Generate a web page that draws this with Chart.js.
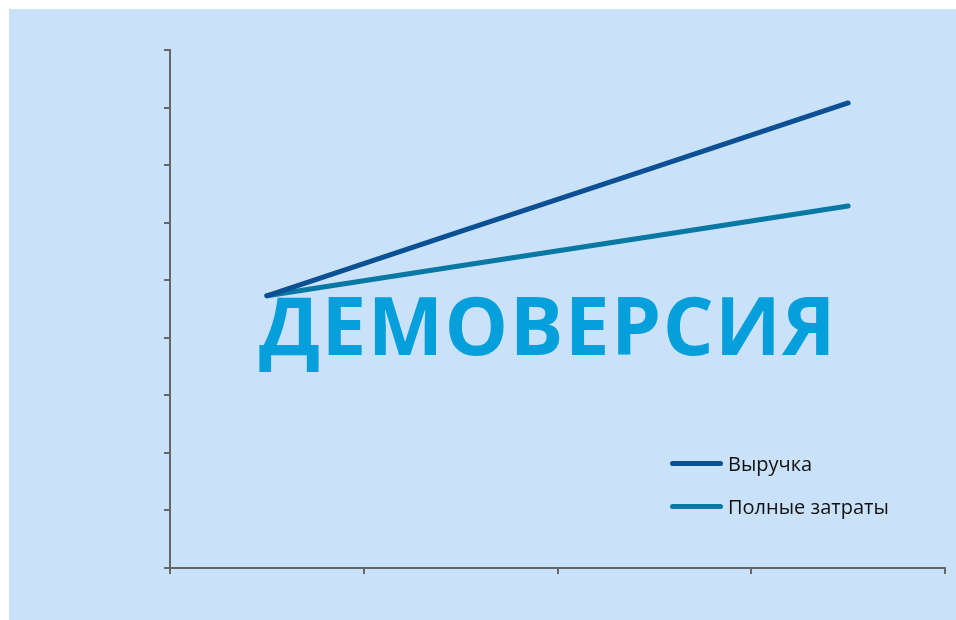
<!DOCTYPE html>
<html>
<head>
<meta charset="utf-8">
<script src="https://cdn.jsdelivr.net/npm/chart.js@4"></script>
<style>
  body { margin: 0; background: #fff; }
  #panel { position: absolute; left: 9px; top: 9px; width: 947px; height: 611px; background: #c9e2fa; }
  #wrap { position: absolute; left: 0; top: 0; width: 956px; height: 620px; }
  #marca { position: absolute; left: 259px; top: 284px; font: bold 80px "Open Sans", sans-serif; letter-spacing: 1.4px; color: #059fdb; white-space: nowrap; line-height: 1; }
  .leg { position: absolute; left: 670px; font: 20px "Open Sans", sans-serif; color: #111; line-height: 1; }
  .leg span { display: inline-block; width: 53px; height: 5px; border-radius: 3px; vertical-align: middle; margin-right: 5px; position: relative; top: -2px; }
</style>
</head>
<body>
<div id="panel"></div>
<div id="wrap"><canvas id="grafico" width="956" height="620"></canvas></div>
<div id="marca">ДЕМОВЕРСИЯ</div>
<div class="leg" style="top:454px"><span style="background:#0b4f95"></span>Выручка</div>
<div class="leg" style="top:497px"><span style="background:#0878a5"></span>Полные затраты</div>
<script>
// Dados do gráfico
const categorias = ['1', '2', '3', '4'];
const receita = [4.73, 5.85, 6.96, 8.08];
const custos = [4.73, 5.25, 5.77, 6.29];
const nomes = ['Выручка', 'Полные затраты'];
const cores = ['#0b4f95', '#0878a5'];

const ctx = document.getElementById('grafico').getContext('2d');
new Chart(ctx, {
    type: 'line',
    data: {
        labels: categorias,
        datasets: [
            { label: nomes[0], data: receita, borderColor: cores[0], borderWidth: 5, borderCapStyle: 'round', pointRadius: 0, tension: 0 },
            { label: nomes[1], data: custos, borderColor: cores[1], borderWidth: 5, borderCapStyle: 'round', pointRadius: 0, tension: 0 }
        ]
    },
    options: {
        responsive: false,
        animation: false,
        layout: { padding: { left: 0, top: 50, right: 11, bottom: 0 } },
        plugins: { legend: { display: false }, tooltip: { enabled: false } },
        scales: {
            x: {
                offset: true,
                ticks: { display: false },
                grid: { offset: true, drawOnChartArea: false, color: '#666', lineWidth: 2, tickLength: 6 },
                border: { color: '#666', width: 2 },
                afterFit: s => { s.height = 52; }
            },
            y: {
                min: 0, max: 9,
                ticks: { display: false, stepSize: 1 },
                grid: { drawOnChartArea: false, color: '#666', lineWidth: 2, tickLength: 6 },
                border: { color: '#666', width: 2 },
                afterFit: s => { s.width = 170; }
            }
        }
    }
});
</script>
</body>
</html>
